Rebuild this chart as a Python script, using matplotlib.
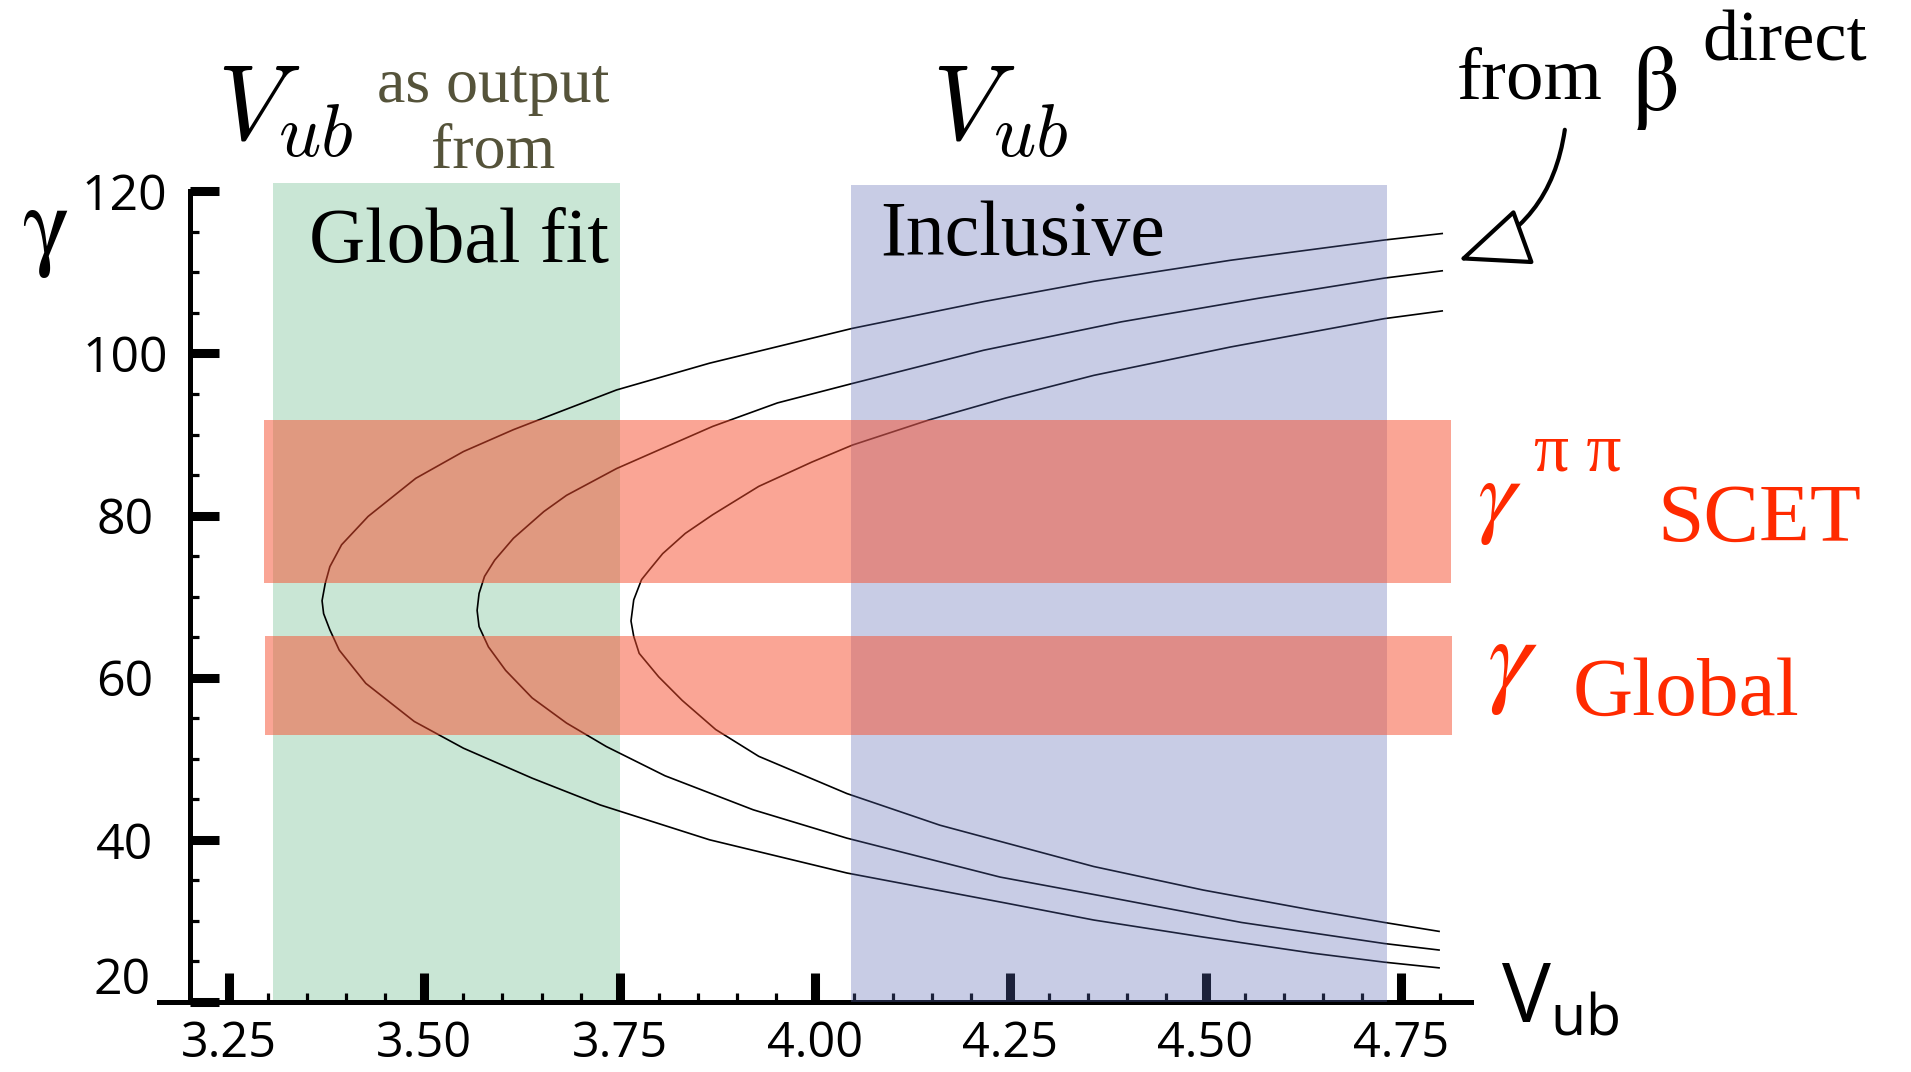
import matplotlib
matplotlib.use("Agg")
import matplotlib.pyplot as plt
from matplotlib.patches import FancyArrowPatch
from matplotlib.ticker import FixedLocator, MultipleLocator

# gamma vs Vub curves (lower branch -> vertex -> upper branch)
curve1_x = [4.799, 4.729, 4.638, 4.497, 4.357, 4.244, 4.041, 3.865, 3.725, 3.638, 3.550, 3.487,
            3.425, 3.391, 3.379, 3.371, 3.369, 3.373, 3.379, 3.394, 3.428, 3.489, 3.550, 3.614,
            3.673, 3.746, 3.865, 4.048, 4.216, 4.357, 4.532, 4.729, 4.803]
curve1_y = [24.2, 24.9, 26.0, 28.0, 30.1, 32.2, 35.9, 40.0, 44.3, 47.6, 51.3, 54.6,
            59.3, 63.4, 65.9, 67.9, 69.5, 71.6, 73.7, 76.4, 79.9, 84.6, 87.9, 90.6,
            92.8, 95.5, 98.8, 103.1, 106.4, 108.9, 111.5, 114.0, 114.8]

curve2_x = [4.799, 4.729, 4.546, 4.371, 4.237, 4.041, 3.921, 3.808, 3.733, 3.682, 3.638, 3.604,
            3.582, 3.570, 3.5675, 3.570, 3.577, 3.590, 3.614, 3.653, 3.682, 3.746, 3.805, 3.869,
            3.952, 4.048, 4.216, 4.392, 4.567, 4.729, 4.803]
curve2_y = [26.4, 27.2, 29.8, 33.0, 35.4, 40.2, 43.7, 47.9, 51.5, 54.4, 57.5, 60.9,
            63.8, 66.3, 68.3, 70.4, 72.5, 74.5, 77.2, 80.5, 82.5, 85.8, 88.3, 91.0,
            93.9, 96.3, 100.4, 103.9, 106.8, 109.3, 110.2]

curve3_x = [4.799, 4.729, 4.638, 4.497, 4.357, 4.160, 4.041, 3.928, 3.873, 3.830, 3.800, 3.775,
            3.768, 3.7645, 3.768, 3.778, 3.788, 3.805, 3.834, 3.869, 3.928, 3.996, 4.048, 4.146,
            4.244, 4.357, 4.532, 4.729, 4.803]
curve3_y = [28.7, 29.8, 31.3, 33.8, 36.7, 41.8, 45.7, 50.3, 53.6, 57.2, 60.1, 63.0,
            65.1, 67.0, 69.6, 72.1, 73.3, 75.3, 77.8, 80.1, 83.6, 86.6, 88.7, 91.8,
            94.5, 97.3, 100.8, 104.3, 105.25]

# horizontal gamma bands (x range, gamma range)
scet_x = [3.295, 4.814]
scet_gamma = [71.7, 91.8]
global_x = [3.296, 4.816]
global_gamma = [52.9, 65.15]

# vertical Vub boxes (Vub range, top)
fit_vub = [3.306, 3.750]
fit_top = 121.0
incl_vub = [4.046, 4.732]
incl_top = 120.8

xticks = [3.25, 3.50, 3.75, 4.00, 4.25, 4.50, 4.75]
xticklabels = ["3.25", "3.50", "3.75", "4.00", "4.25", "4.50", "4.75"]
yticks = [20, 40, 60, 80, 100, 120]
yticklabels = ["", "40", "60", "80", "100", "120"]   # "20" is placed by hand, a bit higher

SANS = ["Open Sans", "DejaVu Sans"]
SERIF = ["Liberation Serif", "DejaVu Serif"]
RED = "#ff2a00"

fig = plt.figure(figsize=(19.11, 10.72), dpi=100)
ax = fig.add_axes([0.0831, 0.0654, 0.6867, 0.7712])
ax.set_xlim(3.16, 4.84)
ax.set_ylim(20, 122)

# axes look
for s in ["top", "right"]:
    ax.spines[s].set_visible(False)
ax.spines["left"].set_position(("data", 3.2))
ax.spines["left"].set_bounds(20, 120)
for s in ["left", "bottom"]:
    ax.spines[s].set_linewidth(3.6)

ax.xaxis.set_major_locator(FixedLocator(xticks))
ax.xaxis.set_minor_locator(MultipleLocator(0.05))
ax.yaxis.set_major_locator(FixedLocator(yticks))
ax.yaxis.set_minor_locator(MultipleLocator(5))
ax.set_xticklabels(xticklabels)
ax.set_yticklabels(yticklabels, ha="center")
ax.tick_params(which="major", direction="in", length=21, width=6.5)
ax.tick_params(which="minor", direction="in", length=6.5, width=2.3)
ax.tick_params(axis="x", which="major", pad=13, labelsize=35)
ax.tick_params(axis="y", which="major", pad=47, labelsize=36)
for lab in ax.get_xticklabels() + ax.get_yticklabels():
    lab.set_family(SANS)
ax.text(3.113, 22.6, "20", fontsize=36, family=SANS, ha="center", va="center", clip_on=False)

# boxes and bands
ax.fill_between(fit_vub, 20, fit_top, color="#c9e6d5", lw=0, zorder=1)
ax.fill_between(incl_vub, 20, incl_top, color="#5867b3", alpha=0.33, lw=0, zorder=3)
ax.fill_between(scet_x, scet_gamma[0], scet_gamma[1], color="#f74d2d", alpha=0.5, lw=0, zorder=4)
ax.fill_between(global_x, global_gamma[0], global_gamma[1], color="#f74d2d", alpha=0.5, lw=0, zorder=4)

for cx, cy in [(curve1_x, curve1_y), (curve2_x, curve2_y), (curve3_x, curve3_y)]:
    ax.plot(cx, cy, color="black", lw=1.2, zorder=2, clip_on=False)

# texts
kw = dict(clip_on=False, zorder=5)
ax.text(3.235, 126.3, r"$V_{ub}$", fontsize=76, math_fontfamily="cm", va="baseline", **kw)
ax.text(4.150, 126.3, r"$V_{ub}$", fontsize=76, math_fontfamily="cm", va="baseline", **kw)
ax.text(3.588, 131.05, "as output", fontsize=46, family=SERIF, color="#55533a",
        ha="center", va="baseline", **kw)
ax.text(3.588, 122.9, "from", fontsize=46, family=SERIF, color="#55533a",
        ha="center", va="baseline", **kw)
ax.text(3.352, 111.3, "Global fit", fontsize=56, family=SERIF, va="baseline", **kw)
ax.text(4.083, 112.2, "Inclusive", fontsize=56, family=SERIF, va="baseline", **kw)

ax.text(4.822, 131.5, "from", fontsize=54, family=SERIF, va="baseline", **kw)
ax.text(5.045, 130.0, r"$\mathrm{\beta}$", fontsize=68, math_fontfamily="stix", va="baseline", **kw)
ax.text(5.136, 136.2, "direct", fontsize=52, family=SERIF, va="baseline", **kw)
arrow = FancyArrowPatch((4.960, 127.6), (4.824, 111.5),
                        arrowstyle="-|>,head_length=45,head_width=19",
                        connectionstyle="arc3,rad=-0.3", mutation_scale=1,
                        lw=3, ec="black", fc="white", shrinkA=0, shrinkB=0,
                        clip_on=False, zorder=5)
ax.add_patch(arrow)

ax.text(4.847, 76.1, r"$\gamma$", fontsize=70, math_fontfamily="stix", color=RED, va="bottom", **kw)
ax.text(4.921, 83.75, "π π", fontsize=50, family=SERIF, color=RED, va="bottom", **kw)
ax.text(5.079, 76.9, "SCET", fontsize=60, family=SERIF, color=RED, va="baseline", **kw)
ax.text(4.861, 55.15, r"$\gamma$", fontsize=80, math_fontfamily="stix", color=RED, va="bottom", **kw)
ax.text(4.970, 55.4, "Global", fontsize=60, family=SERIF, color=RED, va="baseline", **kw)

ax.text(2.985, 109.1, r"$\mathrm{\gamma}$", fontsize=72, math_fontfamily="stix", va="bottom", **kw)
ax.text(4.878, 17.5, r"$\mathregular{V_{ub}}$", fontsize=59, family=SANS, va="baseline", **kw)

fig.savefig("out.png", dpi=100)
